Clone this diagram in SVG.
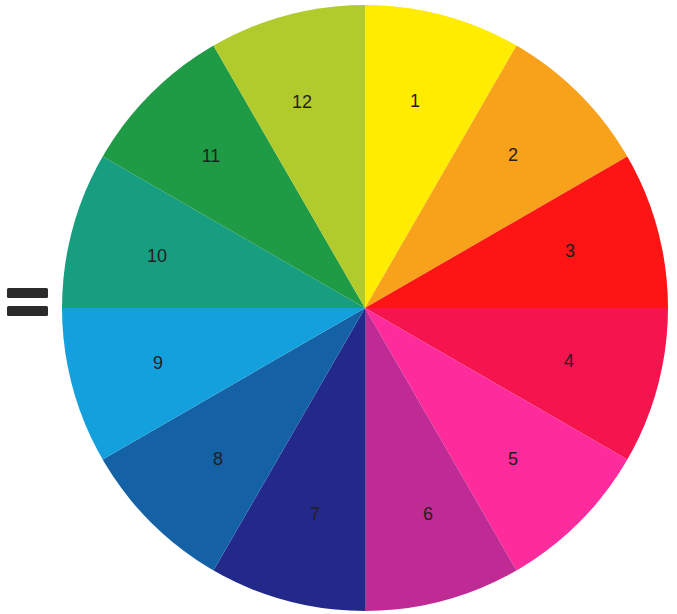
<svg xmlns="http://www.w3.org/2000/svg" width="677" height="614" viewBox="0 0 677 614">
<style>
.lbl{font-family:"Liberation Sans",Arial,sans-serif;font-size:18px;fill:#231f20;text-anchor:middle}
.bar{fill:#2b2b2b}
</style>
<defs>
<clipPath id="disc"><circle cx="365" cy="308" r="303"/></clipPath>
</defs>
<rect width="677" height="614" fill="#ffffff"/>
<g id="equals">
<rect class="bar" x="7" y="288" width="41" height="10" rx="1.5"/>
<rect class="bar" x="7" y="306" width="41" height="10" rx="1.5"/>
</g>
<g id="wheel" clip-path="url(#disc)">
<g id="seg1"><path d="M365,308 L365,-92 L565,-38.4 Z" fill="#ffec00"/></g>
<g id="seg2"><path d="M365,308 L565,-38.4 L711.4,108 Z" fill="#f7a21a"/></g>
<g id="seg3"><path d="M365,308 L711.4,108 L765,308 Z" fill="#fd1414"/></g>
<g id="seg4"><path d="M365,308 L765,308 L711.4,508 Z" fill="#f5144e"/></g>
<g id="seg5"><path d="M365,308 L711.4,508 L565,654.4 Z" fill="#fd2b9c"/></g>
<g id="seg6"><path d="M365,308 L565,654.4 L365,708 Z" fill="#bf2a94"/></g>
<g id="seg7"><path d="M365,308 L365,708 L165,654.4 Z" fill="#23298a"/></g>
<g id="seg8"><path d="M365,308 L165,654.4 L18.6,508 Z" fill="#1561a6"/></g>
<g id="seg9"><path d="M365,308 L18.6,508 L-35,308 Z" fill="#14a0dc"/></g>
<g id="seg10"><path d="M365,308 L-35,308 L18.6,108 Z" fill="#179d80"/></g>
<g id="seg11"><path d="M365,308 L18.6,108 L165,-38.4 Z" fill="#209b45"/></g>
<g id="seg12"><path d="M365,308 L165,-38.4 L365,-92 Z" fill="#b2cb2c"/></g>
</g>
<g id="labels">
<text class="lbl" x="415" y="107">1</text>
<text class="lbl" x="513" y="161">2</text>
<text class="lbl" x="570" y="257">3</text>
<text class="lbl" x="569" y="367">4</text>
<text class="lbl" x="513" y="465">5</text>
<text class="lbl" x="428" y="520">6</text>
<text class="lbl" x="315" y="520">7</text>
<text class="lbl" x="218" y="465">8</text>
<text class="lbl" x="158" y="369">9</text>
<text class="lbl" x="157" y="262">10</text>
<text class="lbl" x="211" y="162">11</text>
<text class="lbl" x="302" y="108">12</text>
</g>
<g id="connectors"/>
</svg>
